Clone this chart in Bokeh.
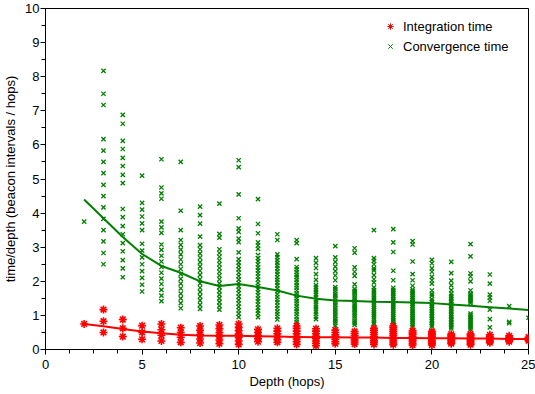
from bokeh.plotting import figure
from bokeh.models import (ColumnDataSource, SingleIntervalTicker, Range1d,
                          Legend, LegendItem)
from bokeh.embed import file_html
from bokeh.resources import INLINE

# ---------------- data ----------------
depths = list(range(2, 26))

# convergence time / depth samples, one list per depth 2..25
conv_values = [
    [3.75],
    [8.17, 7.5, 7.17, 6.17, 5.83, 5.5, 5.17, 4.83, 4.5, 4.17, 3.83, 3.5, 3.17, 2.83, 2.5],
    [6.88, 6.62, 6.12, 5.88, 5.62, 5.38, 5.12, 4.88, 4.12, 3.88, 3.62, 3.38, 3.12, 2.88, 2.62, 2.38, 2.12],
    [5.1, 4.3, 4.1, 3.9, 3.7, 3.5, 3.1, 2.9, 2.7, 2.5, 2.3, 2.1, 1.9, 1.7],
    [5.58, 4.75, 4.58, 4.42, 3.75, 3.58, 3.42, 3.08, 2.92, 2.75, 2.58, 2.42, 2.25, 2.08, 1.92, 1.75, 1.58, 1.42],
    [5.5, 4.07, 3.5, 3.21, 3.07, 2.93, 2.79, 2.64, 2.5, 2.36, 2.21, 2.07, 1.93, 1.79, 1.64, 1.5, 1.36, 1.21],
    [4.19, 3.94, 3.69, 3.31, 3.06, 2.94, 2.81, 2.69, 2.56, 2.44, 2.31, 2.19, 2.06, 1.94, 1.81, 1.69, 1.56, 1.44, 1.31, 1.19],
    [4.28, 3.39, 3.28, 2.94, 2.83, 2.72, 2.61, 2.5, 2.39, 2.28, 2.17, 2.06, 1.94, 1.83, 1.72, 1.61, 1.5, 1.39, 1.28, 1.17],
    [5.55, 5.35, 4.55, 3.85, 3.55, 3.45, 3.25, 3.15, 2.85, 2.65, 2.55, 2.45, 2.35, 2.25, 2.15, 2.05, 1.95, 1.85, 1.75, 1.65, 1.55, 1.45, 1.35, 1.25, 1.15, 1.05, 0.95],
    [4.41, 3.68, 3.41, 3.14, 3.05, 2.95, 2.77, 2.68, 2.59, 2.5, 2.41, 2.32, 2.23, 2.14, 2.05, 1.95, 1.86, 1.77, 1.68, 1.59, 1.5, 1.41, 1.32, 1.23, 1.14, 1.05, 0.95],
    [3.38, 3.21, 2.79, 2.71, 2.62, 2.54, 2.46, 2.38, 2.29, 2.21, 2.12, 2.04, 1.96, 1.88, 1.79, 1.71, 1.62, 1.54, 1.46, 1.38, 1.29, 1.21, 1.12, 1.04, 0.96, 0.88],
    [3.21, 3.12, 2.65, 2.42, 2.35, 2.27, 2.19, 2.12, 2.04, 1.96, 1.88, 1.81, 1.73, 1.65, 1.58, 1.5, 1.42, 1.35, 1.27, 1.19, 1.12, 1.04, 0.96, 0.88, 0.81, 0.73],
    [2.68, 2.54, 2.39, 2.21, 2.04, 1.89, 1.82, 1.75, 1.68, 1.61, 1.54, 1.46, 1.39, 1.32, 1.25, 1.18, 1.11, 1.04, 0.96, 0.89],
    [3.03, 2.7, 2.57, 2.43, 2.3, 2.17, 2.03, 1.83, 1.77, 1.7, 1.63, 1.57, 1.5, 1.43, 1.37, 1.3, 1.23, 1.17, 1.1, 1.03, 0.97, 0.9, 0.83, 0.77, 0.7],
    [2.97, 2.84, 2.41, 2.28, 2.16, 1.91, 1.78, 1.72, 1.66, 1.59, 1.53, 1.47, 1.41, 1.34, 1.28, 1.22, 1.16, 1.09, 1.03, 0.97, 0.91, 0.84, 0.78, 0.72],
    [3.5, 2.68, 2.6, 2.5, 2.38, 2.32, 2.18, 2.06, 1.97, 1.82, 1.74, 1.68, 1.62, 1.56, 1.5, 1.44, 1.38, 1.32, 1.26, 1.21, 1.15, 1.09, 1.03, 0.97, 0.91, 0.85, 0.79, 0.74],
    [3.53, 3.14, 2.86, 2.31, 2.03, 1.81, 1.75, 1.69, 1.64, 1.58, 1.53, 1.47, 1.42, 1.36, 1.31, 1.25, 1.19, 1.14, 1.08, 1.03, 0.97, 0.92, 0.86, 0.81, 0.75, 0.69],
    [3.18, 3.08, 2.58, 2.21, 2.03, 1.87, 1.76, 1.71, 1.66, 1.61, 1.55, 1.5, 1.45, 1.39, 1.34, 1.29, 1.24, 1.18, 1.13, 1.08, 1.03, 0.97, 0.92, 0.87, 0.82, 0.76, 0.71, 0.66],
    [2.63, 2.53, 2.38, 2.28, 2.13, 2.03, 1.93, 1.73, 1.63, 1.58, 1.48, 1.43, 1.38, 1.33, 1.28, 1.23, 1.18, 1.13, 1.08, 1.03, 0.98, 0.93, 0.88, 0.83, 0.78, 0.73, 0.68],
    [2.57, 2.24, 2.02, 1.88, 1.74, 1.64, 1.57, 1.52, 1.48, 1.43, 1.38, 1.33, 1.29, 1.24, 1.19, 1.14, 1.1, 1.05, 1.0, 0.95, 0.9, 0.86, 0.81, 0.76, 0.71, 0.67, 0.62],
    [3.09, 2.73, 2.23, 2.14, 2.0, 1.73, 1.64, 1.59, 1.55, 1.5, 1.45, 1.41, 1.36, 1.05, 1.0, 0.95, 0.91, 0.86, 0.82, 0.77, 0.73, 0.68, 0.64, 0.59],
    [2.2, 1.93, 1.61, 1.52, 1.43, 1.17, 0.89, 0.65],
    [1.27, 0.81, 0.77],
    [0.93],
]

# integration time / depth samples, one list per depth 2..25
integ_values = [
    [0.75],
    [1.17, 0.83, 0.5],
    [0.88, 0.62, 0.38],
    [0.7, 0.5, 0.3],
    [0.75, 0.58, 0.42, 0.25],
    [0.64, 0.5, 0.36, 0.21],
    [0.69, 0.56, 0.44, 0.31, 0.19],
    [0.72, 0.61, 0.5, 0.39, 0.28, 0.17],
    [0.75, 0.65, 0.55, 0.45, 0.35, 0.25, 0.15],
    [0.59, 0.5, 0.41, 0.32, 0.23],
    [0.62, 0.54, 0.46, 0.38, 0.29, 0.21],
    [0.69, 0.62, 0.54, 0.46, 0.38, 0.31, 0.23, 0.15],
    [0.61, 0.54, 0.46, 0.39, 0.32, 0.25, 0.18, 0.11],
    [0.57, 0.5, 0.43, 0.37, 0.3, 0.23, 0.17],
    [0.53, 0.47, 0.41, 0.34, 0.28, 0.22, 0.16],
    [0.62, 0.56, 0.5, 0.44, 0.38, 0.32, 0.26, 0.21, 0.15],
    [0.69, 0.64, 0.58, 0.53, 0.47, 0.42, 0.36, 0.31, 0.25, 0.19, 0.14],
    [0.55, 0.5, 0.45, 0.39, 0.34, 0.29, 0.24, 0.18, 0.13],
    [0.53, 0.48, 0.43, 0.38, 0.33, 0.28, 0.23, 0.18, 0.13],
    [0.45, 0.4, 0.36, 0.31, 0.26, 0.21, 0.17],
    [0.45, 0.41, 0.36, 0.32, 0.27, 0.23, 0.18, 0.14],
    [0.43, 0.37, 0.33, 0.28, 0.24, 0.2],
    [0.4, 0.35, 0.31, 0.27, 0.23],
    [0.36, 0.3, 0.26],
]

# average curves
conv_mean = [4.4, 3.85, 3.3, 2.8, 2.45, 2.25, 2.0, 1.86, 1.92, 1.83, 1.73, 1.58,
             1.49, 1.44, 1.42, 1.4, 1.39, 1.38, 1.36, 1.32, 1.28, 1.24, 1.2, 1.16]
integ_mean = [0.75, 0.68, 0.6, 0.53, 0.48, 0.43, 0.41, 0.4, 0.4, 0.39, 0.38, 0.37,
              0.36, 0.36, 0.35, 0.35, 0.34, 0.34, 0.33, 0.33, 0.32, 0.32, 0.31, 0.31]

series_labels = ["Integration time", "Convergence time"]
x_ticks_interval = 5
y_ticks_interval = 1

# ---------------- build sources ----------------
cx, cy = [], []
for d, vals in zip(depths, conv_values):
    cx += [d] * len(vals)
    cy += vals
ix, iy = [], []
for d, vals in zip(depths, integ_values):
    ix += [d] * len(vals)
    iy += vals

conv_src = ColumnDataSource(dict(x=cx, y=cy))
integ_src = ColumnDataSource(dict(x=ix, y=iy))

FONT = "Liberation Sans"
GREEN = "#008000"
RED = "#ff0000"

p = figure(width=535, height=394, output_backend="svg", toolbar_location=None,
           title=None, x_range=Range1d(0, 25), y_range=Range1d(0, 10),
           min_border_left=45, min_border_right=7, min_border_top=8,
           min_border_bottom=45, background_fill_color="white",
           border_fill_color="white")

p.outline_line_color = "black"
p.outline_line_width = 1
p.outline_line_alpha = 1
p.xgrid.visible = False
p.ygrid.visible = False

p.xaxis.ticker = SingleIntervalTicker(interval=x_ticks_interval, num_minor_ticks=4)
p.yaxis.ticker = SingleIntervalTicker(interval=y_ticks_interval, num_minor_ticks=2)

for ax in (p.xaxis, p.yaxis):
    ax.axis_line_color = "black"
    ax.major_tick_line_color = "black"
    ax.minor_tick_line_color = "black"
    ax.major_tick_in = 0
    ax.major_tick_out = 5
    ax.minor_tick_in = 0
    ax.minor_tick_out = 4
    ax.major_label_text_font = FONT
    ax.major_label_text_font_size = "13px"
    ax.major_label_text_color = "black"
    ax.axis_label_text_font = FONT
    ax.axis_label_text_font_size = "13px"
    ax.axis_label_text_font_style = "normal"
    ax.axis_label_text_color = "black"

p.xaxis.axis_label = "Depth (hops)"
p.yaxis.axis_label = "time/depth (beacon intervals / hops)"
p.xaxis.major_label_standoff = 5
p.xaxis.axis_label_standoff = 2
p.yaxis.major_label_standoff = 1
p.yaxis.axis_label_standoff = 4

p.scatter("x", "y", source=conv_src, marker="x", size=6,
          line_color=GREEN, line_width=1.3)
p.scatter("x", "y", source=integ_src, marker="asterisk", size=8,
          line_color=RED, line_width=1.6)
p.line(depths, conv_mean, line_color=GREEN, line_width=2)
p.line(depths, integ_mean, line_color=RED, line_width=2)

# legend-key renderers: one point placed outside the visible ranges, thin strokes
off = dict(x=[-5], y=[-5])
leg_int = p.scatter("x", "y", source=ColumnDataSource(off), marker="asterisk",
                    size=8, line_color=RED, line_width=1)
leg_conv = p.scatter("x", "y", source=ColumnDataSource(off), marker="x",
                     size=6, line_color=GREEN, line_width=1)

legend = Legend(items=[LegendItem(label=series_labels[0], renderers=[leg_int]),
                       LegendItem(label=series_labels[1], renderers=[leg_conv])],
                location=(332, 288), border_line_alpha=0,
                background_fill_alpha=0, padding=5, spacing=0, margin=0,
                glyph_width=16, glyph_height=20, label_height=20,
                label_standoff=5, label_text_font=FONT,
                label_text_font_size="13px", label_text_color="black")
p.add_layout(legend)

open("out.html", "w").write(file_html(p, INLINE))
